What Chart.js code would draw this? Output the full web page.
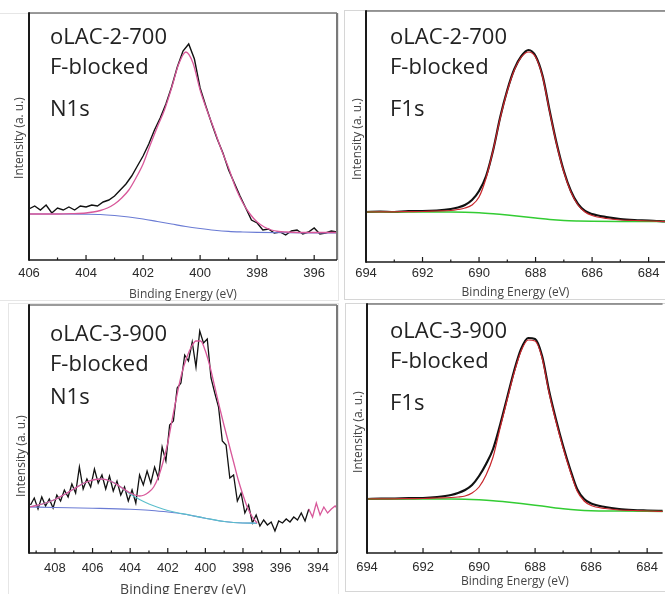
<!DOCTYPE html>
<html><head><meta charset="utf-8">
<script src="https://cdn.jsdelivr.net/npm/chart.js@4"></script>
<style>
html,body{margin:0;padding:0;background:#fff;width:665px;height:594px;overflow:hidden;position:relative}
canvas{position:absolute}
.box{position:absolute;border:1px solid #d6d6d6;box-sizing:border-box}
.ann{position:absolute;font-family:'Open Sans',sans-serif;font-size:22px;line-height:30px;color:#222;white-space:nowrap}
.yt{position:absolute;font-family:'Open Sans',sans-serif;font-size:12px;color:#444;white-space:nowrap;transform:translate(-50%,-50%) rotate(-90deg)}
</style></head><body>
<div class="box" style="left:-4px;top:13px;width:343px;height:288px;border-color:#e6e6e6"></div>
<div class="box" style="left:344px;top:10px;width:330px;height:290px"></div>
<div class="box" style="left:8px;top:303px;width:331px;height:300px;border-color:#e6e6e6"></div>
<div class="box" style="left:345px;top:303px;width:330px;height:289px"></div>
<canvas id="c1" width="340" height="301" style="left:0;top:0"></canvas>
<canvas id="c2" width="321" height="302" style="left:344px;top:0"></canvas>
<canvas id="c3" width="340" height="298" style="left:0;top:300px"></canvas>
<canvas id="c4" width="320" height="292" style="left:345px;top:302px"></canvas>

<div class="ann" style="left:50px;top:20px">oLAC-2-700</div>
<div class="ann" style="left:50px;top:50px">F-blocked</div>
<div class="ann" style="left:50px;top:91.5px">N1s</div>
<div class="ann" style="left:390px;top:20px">oLAC-2-700</div>
<div class="ann" style="left:390px;top:50px">F-blocked</div>
<div class="ann" style="left:390px;top:91.5px">F1s</div>
<div class="ann" style="left:50px;top:316.5px">oLAC-3-900</div>
<div class="ann" style="left:50px;top:346.5px">F-blocked</div>
<div class="ann" style="left:50px;top:380px">N1s</div>
<div class="ann" style="left:390px;top:314px">oLAC-3-900</div>
<div class="ann" style="left:390px;top:344px">F-blocked</div>
<div class="ann" style="left:390px;top:386px">F1s</div>
<div class="yt" style="left:18px;top:138px">Intensity (a. u.)</div>
<div class="yt" style="left:356px;top:139px">Intensity (a. u.)</div>
<div class="yt" style="left:20px;top:456px">Intensity (a. u.)</div>
<div class="yt" style="left:357px;top:432px">Intensity (a. u.)</div>

<script>
// ---------- Panel 1: oLAC-2-700 N1s ----------
const p1Ticks = [406,404,402,400,398,396];
const p1Minor = [405,403,401,399,397];
const p1RawBE = [406.0,405.8,405.6,405.4,405.2,405.0,404.8,404.6,404.4,404.2,404.0,403.8,403.6,403.4,403.2,403.0,402.8,402.6,402.4,402.2,402.0,401.8,401.6,401.4,401.2,401.0,400.8,400.6,400.4,400.2,400.0,399.8,399.6,399.4,399.2,399.0,398.8,398.6,398.4,398.2,398.0,397.8,397.6,397.4,397.2,397.0,396.8,396.6,396.4,396.2,396.0,395.8,395.6,395.4,395.2,395.0];
const p1Raw = [51,54,50,55,47,52,50,53,50,54,53,55,54,58,60,64,70,76,84,94,104,116,130,142,156,173,193,209,216,201,172,154,137,121,107,90,77,64,52,40,37,30,31,27,28,25,29,30,26,28,32,26,27,29,28,27];
const p1EnvBE = [406,405,404.5,404,403.75,403.5,403.25,403,402.75,402.5,402.25,402,401.75,401.5,401.25,401,400.75,400.5,400.25,400,399.75,399.5,399.25,399,398.75,398.5,398.25,398,397.75,397.5,397.25,397,396,395];
const p1Env = [46,46,46.3,47,48,49.5,52,56,62,70,82,96,115,133,150,172,196,208,197,170,149,130,110,92,72,57,46,38,33,30,28.5,28,27.5,27.5];
const p1BgBE = [406,405,404,403.5,403,402.5,402,401.5,401,400.5,400,399.5,399,398.5,398,397,396,395];
const p1Bg = [46,46,45.8,45.5,44.5,43,41,38.5,36,33.5,31.5,29.8,28.6,28,27.6,27.2,27,27];

// ---------- Panel 2: oLAC-2-700 F1s ----------
const f1sTicks = [694,692,690,688,686,684];
const f1sMinor = [693,691,689,687,685];
const p2BE = [694,693.5,693,692.5,692,691.5,691,690.75,690.5,690.25,690,689.75,689.5,689.25,689,688.75,688.5,688.25,688,687.75,687.5,687.25,687,686.75,686.5,686.25,686,685.5,685,684.5,684,683.4];
const p2Raw = [50,50.5,50,51,51,51.5,53,54.5,57,62,71,86,112,145,172,193,206,212,206,186,151,118,91,71,58,51,48,45,43,42,41.5,40.5];
const p2Env = [50,50.1,50.2,50.4,50.5,51,51.5,52.5,54,57,65,84,112,144,171,192,205,210,205,185,150,117,90,70,57,50,46.5,43.5,42,41.5,41,40.5];
const p2BgBE = [694,692,691,690.5,690,689.5,689,688.5,688,687.5,687,686.5,686,685,683.4];
const p2Bg = [50,50,50,49.8,49.3,48.3,47,45.5,44,42.5,41.5,41,40.7,40.5,40.5];

// ---------- Panel 3: oLAC-3-900 N1s ----------
const p3Ticks = [408,406,404,402,400,398,396,394];
const p3Minor = [409,407,405,403,401,399,397,395,393];
const p3RawBE = [409.3,409.1,408.9,408.7,408.5,408.3,408.1,407.9,407.7,407.5,407.3,407.1,406.9,406.7,406.5,406.3,406.1,405.9,405.7,405.5,405.3,405.1,404.9,404.7,404.5,404.3,404.1,403.9,403.7,403.5,403.3,403.1,402.9,402.7,402.5,402.3,402.1,401.9,401.7,401.5,401.3,401.1,400.9,400.7,400.5,400.3,400.1,399.9,399.7,399.5,399.3,399.1,398.9,398.7,398.5,398.3,398.1,397.9,397.7,397.5,397.3,397.1,396.9,396.7,396.5,396.3,396.1,395.9,395.7,395.5,395.3,395.1,394.9,394.7,394.5];
const p3Raw = [48,55,44,56,47,54,45,58,52,63,56,69,60,86,64,74,66,84,70,78,64,77,62,72,58,66,52,63,50,78,68,82,70,86,75,106,92,128,132,165,170,198,192,211,186,222,210,214,175,160,146,112,108,75,78,52,60,40,48,30,38,27,33,28,31,22,32,30,34,31,36,33,40,32,44];
const p3TailBE = [394.5,394.3,394.1,393.9,393.7,393.5,393.3,393.1,393.0];
const p3Tail = [44,36,50,38,46,40,44,47,45];
const p3EnvBE = [409.38,409,408.5,408,407.5,407,406.5,406,405.5,405,404.5,404,403.5,403.25,403,402.75,402.5,402.25,402,401.75,401.5,401.25,401,400.75,400.5,400.25,400,399.75,399.5,399.25,399,398.75,398.5,398.25,398,397.75,397.5,397.25];
const p3Env = [46,47.5,50,53.5,58.5,64,69.5,73,74,71.5,66,60,57,58,61,66,76,91,110,135,159,180,195,206,212,212,202,186,166,146,127,109,91,73,58,45,36,30];
const p3CompBE = [409.38,409,408.5,408,407.5,407,406.5,406,405.5,405,404.5,404,403.5,403,402.5,402,401.5,401,400.5,400,399,398,397.25];
const p3Comp = [46,47.5,50,53.5,58.5,64,69.5,73,74,71.5,66,59,53.5,49,45.5,42.5,40.3,38.6,36.6,34.8,31.5,30,29.8];
const p3BgBE = [409.38,408,406,404,403,402,401.5,401,400.5,400,399.5,399,398.5,398,397.25];
const p3Bg = [46,45.5,44.8,43.8,42.8,41,40,38.5,36.6,34.8,33,31.5,30.5,30,29.8];

// ---------- Panel 4: oLAC-3-900 F1s ----------
const p4BE = p2BE;
const p4Raw = [54,54.3,54.5,54.8,55,56,58,60,63,68,77,89,104,128,155,182,204,215,214,197,162,133,107,84,64,54,49.5,46,44,43,42.5,42];
const p4Env = [54,54.1,54.2,54.4,54.5,55,55.5,56,57,60,66,78,96,125,153,180,202,213,212,195,160,131,105,82,62,52,47.5,44.5,43,42.5,42,41.5];
const p4BgBE = [694,691,690.5,690,689.5,689,688.5,688,687.5,687,686.5,686,685,683.4];
const p4Bg = [54,54,53.8,53.2,52.3,51,49.5,47.8,46,44.3,43,42.3,42,41.5];

const C = {raw:'#111111', pink:'#d8589a', blue:'#6a7bd4', cyan:'#5cbfcc', red:'#c8262b', green:'#33cc33'};

const pts = (xs, ys) => xs.map((x, i) => ({x, y: ys[i]}));
const ds = (xs, ys, color, w, smooth) => ({
  data: pts(xs, ys), borderColor: color, borderWidth: w, fill: false, pointRadius: 0,
  tension: smooth ? 0.4 : 0, cubicInterpolationMode: smooth ? 'monotone' : 'default'
});

const framePlugin = {
  id: 'frame',
  afterDatasetsDraw(chart, args, o) {
    const {ctx, chartArea: a} = chart; const x = chart.scales.x;
    const seg = (x1, y1, x2, y2) => {ctx.beginPath(); ctx.moveTo(x1, y1); ctx.lineTo(x2, y2); ctx.stroke();};
    ctx.save();
    ctx.strokeStyle = '#7a7a7a'; ctx.lineWidth = 1.5;
    seg(a.left, a.top, a.right, a.top);
    if (o.right) { ctx.lineWidth = 2; seg(a.right, a.top, a.right, a.bottom); }
    ctx.strokeStyle = '#1a1a1a'; ctx.lineWidth = 1.5;
    seg(a.left, a.bottom, a.right, a.bottom);
    ctx.lineWidth = 2; seg(a.left, a.top - 0.75, a.left, a.bottom + 0.75);
    ctx.lineWidth = 1.2;
    x.ticks.forEach(t => { const p = x.getPixelForValue(t.value); seg(p, a.bottom, p, a.bottom - 5); });
    (o.minor || []).forEach(v => { const p = x.getPixelForValue(v); seg(p, a.bottom, p, a.bottom - 2.5); });
    ctx.restore();
  }
};

function makeChart(id, cfg) {
  return new Chart(document.getElementById(id), {
    type: 'line',
    data: {datasets: cfg.datasets},
    options: {
      responsive: false, animation: false, events: [],
      layout: {padding: cfg.pad},
      plugins: {legend: {display: false}, tooltip: {enabled: false}, frame: {right: cfg.right, minor: cfg.minor}},
      elements: {point: {radius: 0}},
      scales: {
        x: {
          type: 'linear', reverse: true, min: cfg.min, max: cfg.max,
          afterBuildTicks: s => { s.ticks = cfg.major.map(v => ({value: v})); },
          afterFit: s => { s.height = cfg.xh; },
          grid: {display: false, drawTicks: false}, border: {display: false},
          ticks: {autoSkip: false, maxRotation: 0, padding: cfg.tp, color: '#2a2a2a',
                  font: {family: 'Liberation Sans', size: 13}, callback: v => String(v)},
          title: {display: true, text: 'Binding Energy (eV)', color: '#444',
                  font: {family: 'Open Sans', size: cfg.tfs}, padding: {top: 0, bottom: cfg.tpb}}
        },
        y: {display: false, min: 0, max: cfg.ymax}
      }
    },
    plugins: [framePlugin]
  });
}

makeChart('c1', {
  pad: {left: 29, top: 13, right: 3, bottom: 0}, xh: 41, ymax: 247, tp: 6, tfs: 12, tpb: -1,
  min: 395.2, max: 406, major: p1Ticks, minor: p1Minor, right: true,
  datasets: [ds(p1EnvBE, p1Env, C.pink, 1.3, true), ds(p1BgBE, p1Bg, C.blue, 1.1, true), ds(p1RawBE, p1Raw, C.raw, 1.4, false)]
});
makeChart('c2', {
  pad: {left: 22, top: 11, right: 0, bottom: 0}, xh: 40, ymax: 251, tp: 4, tfs: 12, tpb: 2,
  min: 683.42, max: 694, major: f1sTicks, minor: f1sMinor, right: false,
  datasets: [ds(p2BE, p2Env, C.red, 1.2, true), ds(p2BgBE, p2Bg, C.green, 1.5, true), ds(p2BE, p2Raw, C.raw, 2.2, true)]
});
makeChart('c3', {
  pad: {left: 29, top: 5, right: 3, bottom: 0}, xh: 45, ymax: 248, tp: 8, tfs: 14, tpb: 0,
  min: 393.0, max: 409.38, major: p3Ticks, minor: p3Minor, right: true,
  datasets: [ds(p3TailBE, p3Tail, C.pink, 1.3, false), ds(p3EnvBE, p3Env, C.pink, 1.3, true), ds(p3CompBE, p3Comp, C.cyan, 1.1, true), ds(p3BgBE, p3Bg, C.blue, 1.1, true), ds(p3RawBE, p3Raw, C.raw, 1.3, false)]
});
makeChart('c4', {
  pad: {left: 22, top: 2, right: 0, bottom: 0}, xh: 41, ymax: 249, tp: 7, tfs: 12, tpb: 5,
  min: 683.45, max: 694, major: f1sTicks, minor: f1sMinor, right: false,
  datasets: [ds(p4BE, p4Env, C.red, 1.2, true), ds(p4BgBE, p4Bg, C.green, 1.5, true), ds(p4BE, p4Raw, C.raw, 2.2, true)]
});
</script>
</body></html>
